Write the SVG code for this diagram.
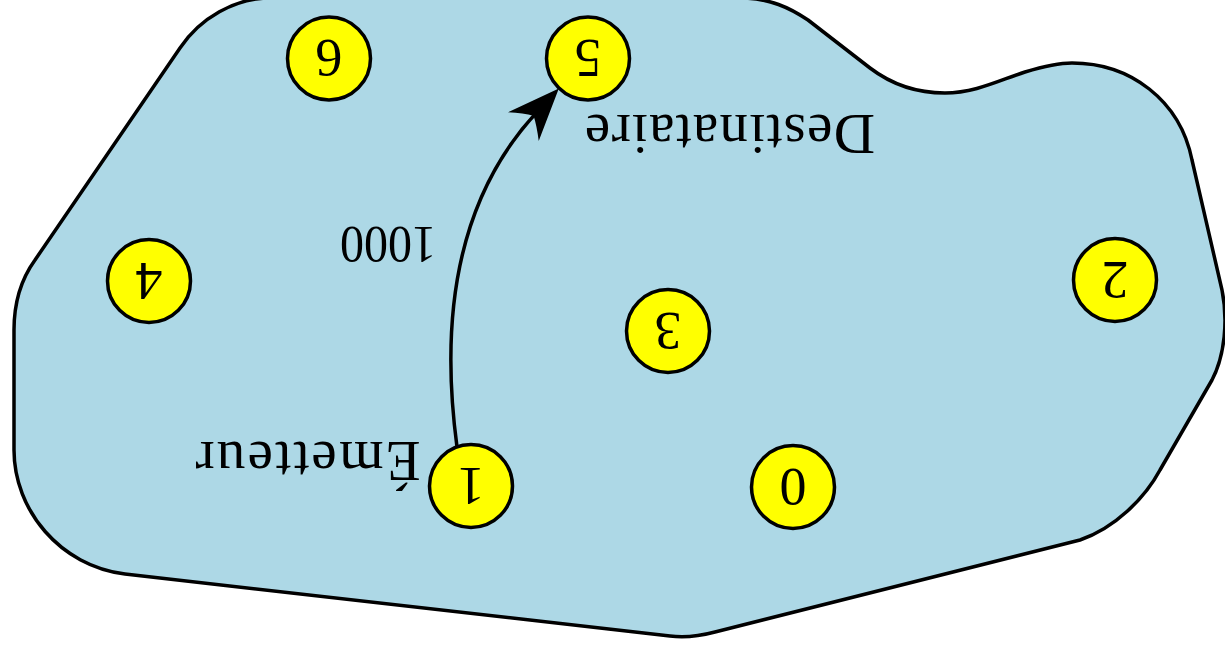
<svg xmlns="http://www.w3.org/2000/svg" width="1225" height="648" viewBox="0 0 1225 648">
  <style>
    .blob { fill: #add8e6; stroke: #000; stroke-width: 3.5; stroke-linejoin: round; }
    .node circle { fill: #ffff00; stroke: #000; stroke-width: 3.5; }
    .node text { font-family: "Liberation Serif", "Times New Roman", serif; font-size: 54px; text-anchor: middle; fill: #000; }
    .lbl { font-family: "Liberation Serif", "Times New Roman", serif; text-anchor: middle; fill: #000; }
    .edge { fill: none; stroke: #000; stroke-width: 3.5; }
  </style>
  <defs>
    <marker id="arrow" markerUnits="userSpaceOnUse" markerWidth="60" markerHeight="50" refX="20" refY="21" orient="auto" overflow="visible">
      <path d="M52,21 L0,0 Q10,12 15,21 Q10,30 0,42 Z" fill="#000"/>
    </marker>
  </defs>

  <g id="region">
    <path class="blob" d="M270,-2 L740,-2 C770,-2 790,8 808,20 L870,68 C895,87 920,93 945,93 C975,93 1000,80 1025,72 C1045,66 1058,63 1072,63 C1130,63 1180,100 1192,160 L1222,290 C1228,320 1225,355 1212,380 L1160,470 C1145,498 1115,528 1080,540 L715,632 C700,636 685,638 670,636 L125,574 C60,566 14,510 14,450 L14,330 C14,300 22,278 35,260 L180,48 C200,18 235,-2 270,-2 Z"/>
  </g>

  <g id="connectors">
    <path class="edge" d="M457,447 C440,320 455,200 537,112" marker-end="url(#arrow)"/>
    <text class="lbl" font-size="52" textLength="96" lengthAdjust="spacingAndGlyphs" transform="translate(388,227) rotate(180)">1000</text>
  </g>

  <g id="node-0" class="node">
    <circle cx="793" cy="487" r="41.5"/>
    <text transform="translate(793,487) rotate(180)" y="18.5">0</text>
  </g>
  <g id="node-1" class="node">
    <circle cx="471" cy="486" r="41.5"/>
    <text transform="translate(471,486) rotate(180)" y="18.5">1</text>
  </g>
  <g id="node-2" class="node">
    <circle cx="1115" cy="280" r="41.5"/>
    <text transform="translate(1115,280) rotate(180)" y="18.5">2</text>
  </g>
  <g id="node-3" class="node">
    <circle cx="668" cy="331" r="41.5"/>
    <text transform="translate(668,331) rotate(180)" y="18.5">3</text>
  </g>
  <g id="node-4" class="node">
    <circle cx="149" cy="281" r="41.5"/>
    <text transform="translate(149,281) rotate(180)" y="18.5">4</text>
  </g>
  <g id="node-5" class="node">
    <circle cx="588" cy="58.5" r="41.5"/>
    <text transform="translate(588,58.5) rotate(180)" y="18.5">5</text>
  </g>
  <g id="node-6" class="node">
    <circle cx="329" cy="58.5" r="41.5"/>
    <text transform="translate(329,58.5) rotate(180)" y="18.5">6</text>
  </g>

  <g id="labels">
    <text class="lbl" font-size="57" textLength="290" lengthAdjust="spacing" transform="translate(730,115) rotate(180)">Destinataire</text>
    <text class="lbl" font-size="57" textLength="225" lengthAdjust="spacing" transform="translate(308,442) rotate(180)">Émetteur</text>
  </g>
</svg>
